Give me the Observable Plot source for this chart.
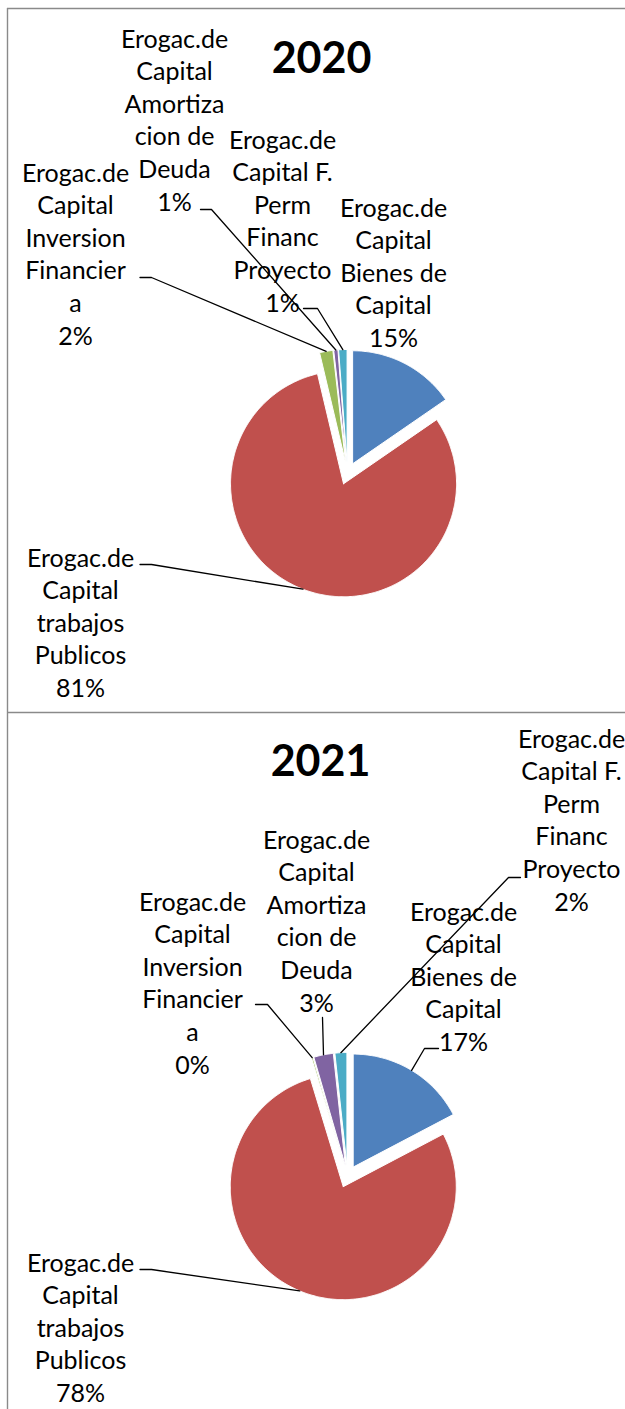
<!DOCTYPE html>
<html><head><meta charset="utf-8">
<script src="https://cdn.jsdelivr.net/npm/d3@7"></script>
<script src="https://cdn.jsdelivr.net/npm/@observablehq/plot@0.6"></script>
<style>html,body{margin:0;padding:0;background:#fff;overflow:hidden}</style>
</head><body><div id="chart"></div>
<script>
// ---- data ----
const years = ["2020", "2021"];
const categories = [
  "Erogac.de Capital Bienes de Capital",
  "Erogac.de Capital trabajos Publicos",
  "Erogac.de Capital Inversion Financiera",
  "Erogac.de Capital Amortizacion de Deuda",
  "Erogac.de Capital F. Perm Financ Proyecto"
];
const categoryLines = [
  ["Erogac.de", "Capital", "Bienes de", "Capital"],
  ["Erogac.de", "Capital", "trabajos", "Publicos"],
  ["Erogac.de", "Capital", "Inversion", "Financier", "a"],
  ["Erogac.de", "Capital", "Amortiza", "cion de", "Deuda"],
  ["Erogac.de", "Capital F.", "Perm", "Financ", "Proyecto"]
];
const values2020 = [15.4, 80.9, 1.9, 0.6, 1.2];
const values2021 = [17.3, 78.0, 0.2, 2.8, 1.7];
const colors = ["#4F81BD", "#C0504D", "#9BBB59", "#8064A2", "#4BACC6"];

// ---- layout (pixels) ----
const W = 625, H = 1409;
const R = 113, EXPLODE = 11, LINE_H = 32.6;
const FONT = "Lato, 'Open Sans', sans-serif";
const charts = [
  {year: "2020", values: values2020, cx: 347, cy: 473, title: [321, 59],
   labels: [
     {x: 393, y: 208, leader: null},
     {x: 80, y: 558, leader: [[139.5, 564], [151, 564]]},
     {x: 75, y: 173, leader: [[139.5, 277], [151, 277]]},
     {x: 174, y: 39, leader: [[200, 209], [211, 209]]},
     {x: 282, y: 140, leader: [[303, 308], [317, 308]]}
   ]},
  {year: "2021", values: values2021, cx: 347, cy: 1176, title: [320, 762],
   labels: [
     {x: 463, y: 912, leader: [[438, 1048], [424, 1048]]},
     {x: 80, y: 1263, leader: [[139.5, 1269], [151, 1269]]},
     {x: 192, y: 902, leader: [[255, 1004], [267, 1004]]},
     {x: 316, y: 840, leader: [[322, 1017]]},
     {x: 571, y: 739, leader: [[520, 877], [508, 877]]}
   ]}
];

// ---- build mark data ----
const slicePts = [], textPts = [], leaderPts = [], titles = [];
charts.forEach((c, ci) => {
  const total = d3.sum(c.values);
  const arcs = d3.pie().sort(null).startAngle(0).endAngle(2 * Math.PI)(c.values);
  titles.push({x: c.title[0], y: c.title[1], t: c.year});
  arcs.forEach((a, i) => {
    const mid = (a.startAngle + a.endAngle) / 2;
    const ox = c.cx + EXPLODE * Math.sin(mid), oy = c.cy - EXPLODE * Math.cos(mid);
    const key = c.year + "-" + i;
    const n = Math.max(2, Math.ceil((a.endAngle - a.startAngle) / 0.01));
    slicePts.push({k: key, x: ox, y: oy, fill: colors[i]});
    for (let j = 0; j <= n; j++) {
      const ang = a.startAngle + (a.endAngle - a.startAngle) * j / n;
      slicePts.push({k: key, x: ox + R * Math.sin(ang), y: oy - R * Math.cos(ang), fill: colors[i]});
    }
    slicePts.push({k: key, x: ox, y: oy, fill: colors[i]});
    // labels
    const L = c.labels[i];
    const lines = [...categoryLines[i], Math.round(100 * c.values[i] / total) + "%"];
    lines.forEach((s, j) => textPts.push({x: L.x, y: L.y + j * LINE_H, t: s}));
    if (L.leader) {
      L.leader.forEach(p => leaderPts.push({k: key, x: p[0], y: p[1]}));
      leaderPts.push({k: key, x: ox + R * Math.sin(mid), y: oy - R * Math.cos(mid)});
    }
  });
});

const chart = Plot.plot({
  width: W, height: H, margin: 0,
  x: {type: "linear", domain: [0, W], range: [0, W], axis: null},
  y: {type: "linear", domain: [0, H], range: [0, H], axis: null},
  color: {type: "identity"},
  style: {background: "#fff", fontFamily: FONT},
  marks: [
    Plot.ruleX([7], {y1: 8, y2: H, stroke: "#8a8a8a", strokeWidth: 1.4}),
    Plot.ruleY([8, 712], {x1: 7, x2: W, stroke: "#8a8a8a", strokeWidth: 1.4}),
    Plot.line(slicePts, {x: "x", y: "y", z: "k", fill: "fill", stroke: "white", strokeWidth: 1, curve: "linear"}),
    Plot.line(leaderPts, {x: "x", y: "y", z: "k", stroke: "black", strokeWidth: 1.3}),
    Plot.text(textPts, {x: "x", y: "y", text: "t", fontSize: 25, fill: "black", textAnchor: "middle", fontFamily: FONT}),
    Plot.text(titles, {x: "x", y: "y", text: "t", fontSize: 43, fontWeight: "bold", fill: "black", textAnchor: "middle", fontFamily: FONT})
  ]
});
document.getElementById("chart").appendChild(chart);
</script>
</body></html>
